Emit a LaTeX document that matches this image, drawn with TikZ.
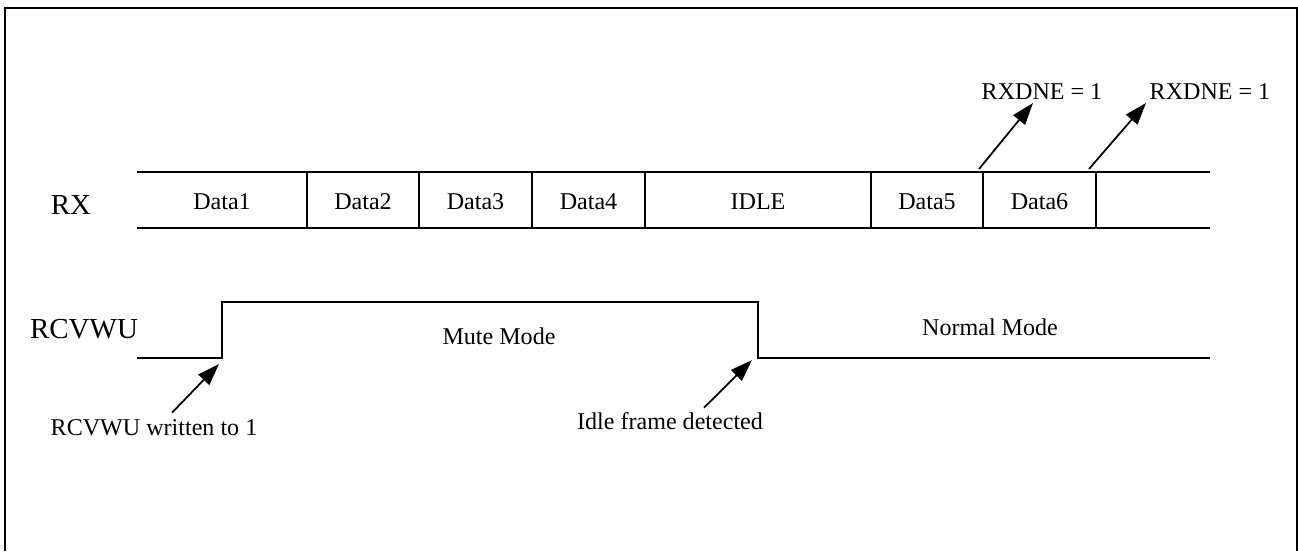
\documentclass[tikz,border=0pt]{standalone}
\usepackage{fontspec}
\setmainfont{Liberation Serif}
\usetikzlibrary{arrows.meta}

\begin{document}
\begin{tikzpicture}[
    x=0.02cm, y=-0.02cm,
    wire/.style={line width=1.1pt},
    lbl/.style={anchor=base, inner sep=0pt, font=\fontsize{13.7}{16}\selectfont},
    sig/.style={anchor=base, inner sep=0pt, font=\fontsize{16.5}{20}\selectfont},
    arr/.style={-{Triangle[length=0.44cm, width=0.3cm]}, line width=1pt}
  ]
    \useasboundingbox (0,0) rectangle (1298,551);
    % frame, open at the bottom
    \draw[wire] (5,551) -- (5,8) -- (1297,8) -- (1297,551);

    % RX line
    \node[sig] (rx) at (71,214) {RX};
    \draw[wire] (137,172) -- (1210,172);
    \draw[wire] (137,228) -- (1210,228);
    \foreach \x in {307,419,532,645,871,983,1096}
      \draw[wire] (\x,172) -- (\x,228);
    \node[lbl] (d1) at (222,209) {Data1};
    \node[lbl] (d2) at (363,209) {Data2};
    \node[lbl] (d3) at (475.5,209) {Data3};
    \node[lbl] (d4) at (588.5,209) {Data4};
    \node[lbl] (idle) at (758,209) {IDLE};
    \node[lbl] (d5) at (927,209) {Data5};
    \node[lbl] (d6) at (1039.5,209) {Data6};

    % RXDNE flags
    \node[lbl] (dne1) at (1042,99) {RXDNE = 1};
    \node[lbl] (dne2) at (1210,99) {RXDNE = 1};
    \coordinate (end5) at (979,169);
    \coordinate (end6) at (1089,169);
    \draw[arr] (end5) -- ([shift={(-9,4)}]dne1.base);
    \draw[arr] (end6) -- ([shift={(-64,4)}]dne2.base);

    % RCVWU line
    \node[sig] (rcvwu) at (84,338) {RCVWU};
    \coordinate (rise) at (222,358);
    \coordinate (fall) at (758,358);
    \draw[wire] (137,358) -- (rise) -- (222,302) -- (758,302) -- (fall) -- (1210,358);
    \node[lbl] (mute) at (499,344) {Mute Mode};
    \node[lbl] (normal) at (990,335) {Normal Mode};

    % events
    \node[lbl] (wr) at (154,435) {RCVWU written to 1};
    \node[lbl] (idf) at (670,429) {Idle frame detected};
    \draw[arr] ([shift={(18,-6)}]wr.north) -- ([shift={(-3,6)}]rise);
    \draw[arr] ([shift={(34,-4)}]idf.north) -- ([shift={(-6,2)}]fall);
  \end{tikzpicture}
\end{document}
